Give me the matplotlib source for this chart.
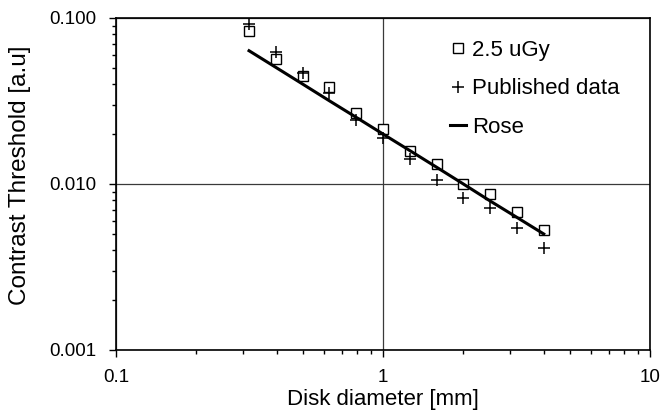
import matplotlib
matplotlib.use("Agg")
import matplotlib.pyplot as plt
from matplotlib.ticker import FixedLocator, FixedFormatter, LogLocator, NullFormatter

plt.rcParams['font.family'] = ['Liberation Sans', 'DejaVu Sans']

diameters = [0.315, 0.397, 0.5, 0.63, 0.794, 1.0, 1.26, 1.59, 2.0, 2.52, 3.17, 4.0]
measured_2p5uGy = [0.0838, 0.0564, 0.0449, 0.0382, 0.0267, 0.0214, 0.0159, 0.0132, 0.0100, 0.0087, 0.0068, 0.0053]
published = [0.092, 0.0627, 0.0468, 0.0352, 0.0243, 0.0188, 0.0141, 0.0106, 0.0082, 0.0072, 0.0054, 0.0041]
rose = [0.0635, 0.0504, 0.0400, 0.0317, 0.0252, 0.0200, 0.0159, 0.0126, 0.0100, 0.0079, 0.0063, 0.0050]

x_ticks = [0.1, 1, 10]
x_tick_labels = ["0.1", "1", "10"]
y_ticks = [0.001, 0.01, 0.1]
y_tick_labels = ["0.001", "0.010", "0.100"]

fig = plt.figure(figsize=(6.64, 4.12), dpi=100)
ax = fig.add_axes([116/664, 1-350/412, 534/664, 332/412])

ax.set_xscale('log')
ax.set_yscale('log')
ax.set_xlim(0.1, 10)
ax.set_ylim(0.001, 0.1)

ax.grid(True, which='major', color='#3a3a3a', linewidth=0.9)
ax.set_axisbelow(True)

ax.plot(diameters, measured_2p5uGy, linestyle='none', marker='s', markersize=6.5,
        markerfacecolor='white', markeredgecolor='black', markeredgewidth=1.0,
        label='2.5 uGy', zorder=3)
ax.plot(diameters, published, linestyle='none', marker='+', markersize=9,
        color='black', markeredgewidth=1.1, label='Published data', zorder=3)
ax.plot(diameters, rose, color='black', linewidth=2.2, label='Rose', zorder=4)

ax.xaxis.set_major_locator(FixedLocator(x_ticks))
ax.xaxis.set_major_formatter(FixedFormatter(x_tick_labels))
ax.yaxis.set_major_locator(FixedLocator(y_ticks))
ax.yaxis.set_major_formatter(FixedFormatter(y_tick_labels))
ax.xaxis.set_minor_locator(LogLocator(base=10, subs=range(2, 10)))
ax.yaxis.set_minor_locator(LogLocator(base=10, subs=range(2, 10)))
ax.xaxis.set_minor_formatter(NullFormatter())
ax.yaxis.set_minor_formatter(NullFormatter())

ax.tick_params(which='major', direction='out', length=5, width=1.0, labelsize=13.5, pad=9, colors='black')
ax.tick_params(which='minor', direction='out', length=3, width=1.0)
ax.tick_params(axis='x', which='major', pad=9)
for sp in ax.spines.values():
    sp.set_linewidth(1.2)
    sp.set_color('black')

ax.set_xlabel('Disk diameter [mm]', fontsize=16)
ax.set_ylabel('Contrast Threshold [a.u]', fontsize=17.5)
ax.xaxis.set_label_coords(0.5, -0.118)
ax.yaxis.set_label_coords(-0.16, 0.527)

leg = ax.legend(loc='upper left', bbox_to_anchor=(450/664, 1-40/412),
                bbox_transform=fig.transFigure, frameon=False, fontsize=16,
                handlelength=0.7, handletextpad=0.3, labelspacing=0.78,
                borderpad=0, borderaxespad=0)

fig.savefig('out.png', dpi=100)
